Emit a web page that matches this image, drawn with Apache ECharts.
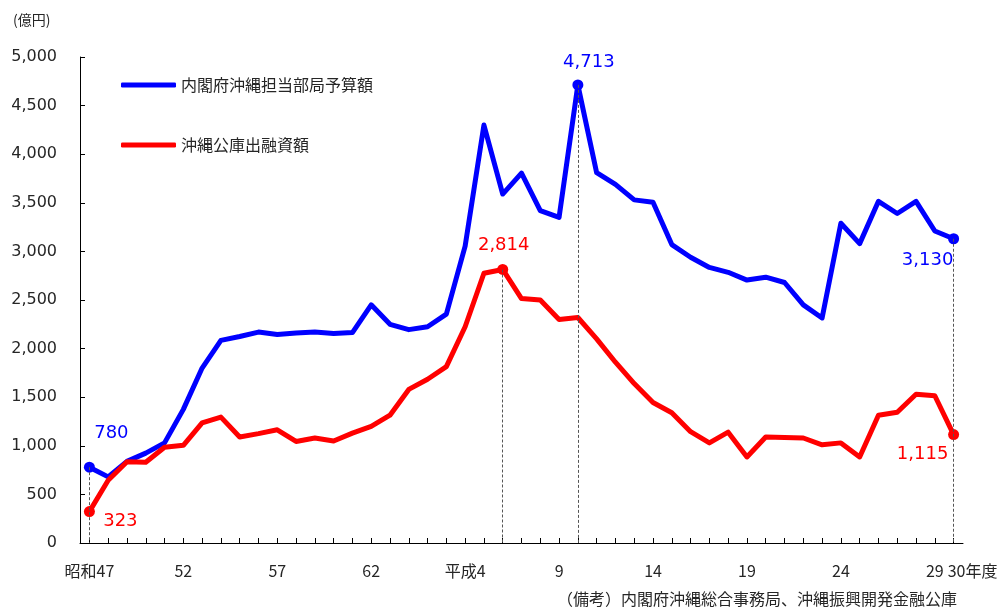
<!DOCTYPE html>
<html><head><meta charset="utf-8">
<script src="https://cdn.jsdelivr.net/npm/echarts@6/dist/echarts.min.js"></script>
<style>html,body{margin:0;padding:0;background:#fff}#c{width:1005px;height:608px}</style>
</head><body><div id="c"></div>
<script>
const categories = ['昭和47','48','49','50','51','52','53','54','55','56','57','58','59','60','61','62','63',
  '平成元','2','3','平成4','5','6','7','8','9','10','11','12','13','14','15','16','17','18','19','20',
  '21','22','23','24','25','26','27','28','29','30年度'];
const shownLabels = ['昭和47','52','57','62','平成4','9','14','19','24','29','30年度'];
const budgetName = '内閣府沖縄担当部局予算額';
const loanName = '沖縄公庫出融資額';
const budget = [780,680,840,925,1030,1375,1800,2085,2125,2170,2145,2160,2170,2155,2165,2450,2250,
  2195,2225,2355,3055,4300,3590,3805,3420,3350,4713,3810,3690,3530,3505,3070,2940,2835,2785,2705,
  2735,2680,2450,2315,3290,3080,3515,3390,3515,3210,3130];
const loans = [323,645,835,830,985,1005,1235,1295,1090,1125,1165,1045,1080,1050,1130,1200,1315,
  1580,1685,1815,2225,2775,2814,2515,2500,2300,2320,2100,1860,1640,1445,1340,1145,1030,1140,885,
  1090,1085,1080,1010,1030,885,1315,1345,1530,1515,1115];
const unitText = '(億円)';
const sourceText = '（備考）内閣府沖縄総合事務局、沖縄振興開発金融公庫';

// indices of highlighted points -> label offsets (layout only)
const budgetMarks = {0:[22,-34], 26:[11,-23], 46:[-26,22]};
const loanMarks = {0:[31,10], 22:[1,-24], 46:[-31,20]};
const budgetDrops = [0,26,46];
const loanDrops = [22];

const BLUE = '#0000FF', RED = '#FF0000', TXT = '#262626';
const JP = 'Noto Sans CJK JP';
const fmt = v => Number(v).toLocaleString('en-US');

function buildData(values, marks, color) {
  return values.map((v, i) => marks[i] ? {
    value: v, symbol: 'circle', symbolSize: 11,
    label: {show: true, position: 'inside', offset: marks[i], color: color,
      fontSize: 18, fontFamily: 'DejaVu Sans', formatter: p => fmt(p.value)}
  } : v);
}
function drops(values, idx) {
  return idx.map(i => [{coord: [categories[i], values[i]]}, {coord: [categories[i], 0]}]);
}
function series(name, values, marks, dropIdx, color) {
  return {
    name: name, type: 'line', data: buildData(values, marks, color),
    symbol: 'circle', symbolSize: 0, showSymbol: true,
    itemStyle: {color: color},
    lineStyle: {color: color, width: 5, cap: 'round', join: 'round'},
    label: {show: false},
    emphasis: {disabled: true},
    markLine: {silent: true, symbol: 'none', animation: false, label: {show: false},
      lineStyle: {color: '#555', type: [3, 2], width: 1},
      data: drops(values, dropIdx)}
  };
}

const chart = echarts.init(document.getElementById('c'));
chart.setOption({
  animation: false,
  backgroundColor: '#fff',
  title: [
    {text: unitText, left: 13, top: 13, padding: 0,
     textStyle: {fontSize: 14, fontWeight: 'normal', color: TXT, fontFamily: JP}},
    {text: sourceText, right: 48, top: 591, padding: 0,
     textStyle: {fontSize: 16, fontWeight: 'normal', color: TXT, fontFamily: JP}}
  ],
  legend: {
    orient: 'vertical', left: 121, top: 75, padding: 0,
    itemWidth: 55, itemHeight: 5, itemGap: 40, icon: 'roundRect',
    textStyle: {fontSize: 16, lineHeight: 20, color: TXT, fontFamily: JP},
    data: [budgetName, loanName]
  },
  grid: {left: 80, right: 42, top: 57, bottom: 65},
  xAxis: {
    type: 'category', data: categories, boundaryGap: true,
    axisLine: {lineStyle: {color: '#000', width: 1}},
    axisTick: {show: true, inside: true, length: 5, alignWithLabel: true, interval: 0,
      lineStyle: {color: '#000'}},
    axisLabel: {
      interval: (i, v) => shownLabels.includes(v),
      margin: 20, fontSize: 16, color: TXT, fontFamily: JP,
      formatter: v => v === categories[categories.length - 1] ? '{last|' + v + '}' : v,
      rich: {last: {padding: [0, 0, 0, 38], fontSize: 16, color: TXT, fontFamily: JP}}
    },
    splitLine: {show: false}
  },
  yAxis: {
    type: 'value', min: 0, max: 5000, interval: 500,
    axisLine: {show: true, lineStyle: {color: '#000', width: 1}},
    axisTick: {show: true, inside: true, length: 5, lineStyle: {color: '#000'}},
    axisLabel: {formatter: fmt, fontSize: 16, color: TXT, fontFamily: 'DejaVu Sans', margin: 23},
    splitLine: {show: false}
  },
  series: [
    series(budgetName, budget, budgetMarks, budgetDrops, BLUE),
    series(loanName, loans, loanMarks, loanDrops, RED)
  ]
});
</script></body></html>
